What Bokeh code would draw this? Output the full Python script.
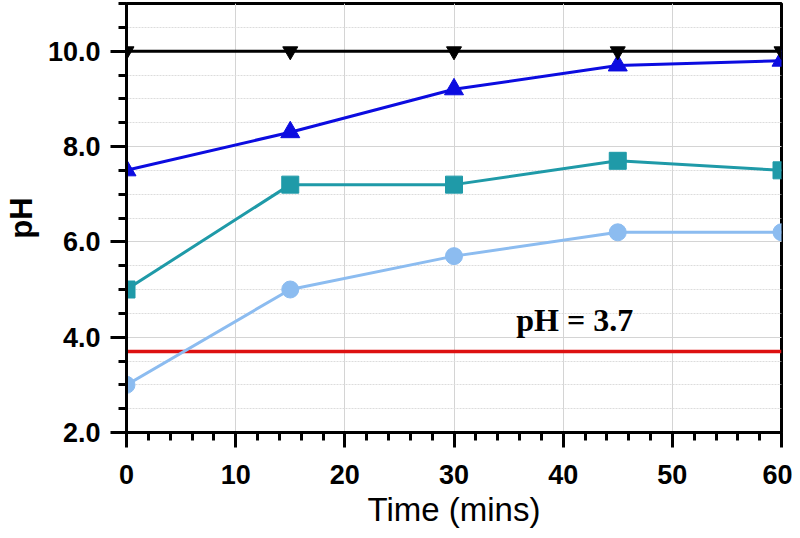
from bokeh.plotting import figure
from bokeh.models import Range1d, SingleIntervalTicker, NumeralTickFormatter, Label
from bokeh.embed import file_html
from bokeh.resources import INLINE

time = [0, 15, 30, 45, 60]
ph_black = [10.0, 10.0, 10.0, 10.0, 10.0]
ph_blue = [7.5, 8.3, 9.2, 9.7, 9.8]
ph_teal = [5.0, 7.2, 7.2, 7.7, 7.5]
ph_light = [3.0, 5.0, 5.7, 6.2, 6.2]
threshold = 3.7
threshold_label = "pH = 3.7"
x_title = "Time (mins)"
y_title = "pH"

p = figure(width=792, height=530, output_backend="svg", toolbar_location=None,
           x_range=Range1d(0, 60), y_range=Range1d(2, 11),
           min_border_left=124, min_border_right=11, min_border_top=3, min_border_bottom=98)

p.outline_line_color = "black"
p.outline_line_width = 3

# grids
p.xgrid.grid_line_color = "#d4d4d4"
p.xgrid.grid_line_width = 1
p.ygrid.grid_line_color = "#d4d4d4"
p.ygrid.grid_line_width = 1
p.ygrid.minor_grid_line_color = "#dcdcdc"
p.ygrid.minor_grid_line_dash = "2 1"
p.ygrid.minor_grid_line_width = 1

p.xaxis.ticker = SingleIntervalTicker(interval=10, num_minor_ticks=5)
p.yaxis.ticker = SingleIntervalTicker(interval=2, num_minor_ticks=4)
p.yaxis.formatter = NumeralTickFormatter(format="0.0")

for ax in (p.xaxis[0], p.yaxis[0]):
    ax.axis_line_width = 3
    ax.axis_line_color = "black"
    ax.major_tick_line_width = 3
    ax.minor_tick_line_width = 3
    ax.major_tick_in = 0
    ax.minor_tick_in = 0
    ax.major_tick_out = 15
    ax.minor_tick_out = 8
    ax.major_label_text_font = "Liberation Sans"
    ax.major_label_text_font_style = "bold"
    ax.major_label_text_font_size = "27px"
    ax.major_label_text_color = "black"
    ax.axis_label_text_font = "Liberation Sans"
    ax.axis_label_text_color = "black"

p.xaxis.major_label_standoff = 17
p.xaxis.axis_label = x_title
p.xaxis.axis_label_text_font_style = "normal"
p.xaxis.axis_label_text_font_size = "33px"
p.xaxis.axis_label_standoff = 4

p.yaxis.major_tick_out = 16
p.yaxis.major_label_standoff = 10
p.yaxis.axis_label = y_title
p.yaxis.axis_label_text_font_style = "bold"
p.yaxis.axis_label_text_font_size = "31px"
p.yaxis.axis_label_standoff = 6

# threshold line
p.line([time[0], time[-1]], [threshold, threshold], line_color="#dd1111", line_width=3.5)
p.add_layout(Label(x=35.7, y=4.35, text=threshold_label, text_font="Liberation Serif",
                   text_font_style="bold", text_font_size="32px", text_color="black",
                   text_baseline="alphabetic"))

# series
p.line(time, ph_light, line_color="#8cbcf0", line_width=3)
p.scatter(time, ph_light, marker="circle", size=17, fill_color="#8cbcf0", line_color="#8cbcf0")

p.line(time, ph_teal, line_color="#1f9aa8", line_width=3)
p.scatter(time, ph_teal, marker="square", size=17, fill_color="#1f9aa8", line_color="#1f9aa8")

p.line(time, ph_blue, line_color="#0c0ce0", line_width=3)
p.scatter(time, ph_blue, marker="triangle", size=19, fill_color="#0c0ce0", line_color="#0c0ce0")

p.line(time, ph_black, line_color="black", line_width=3)
p.scatter(time, ph_black, marker="inverted_triangle", size=15, fill_color="black", line_color="black")

open("out.html", "w").write(file_html(p, INLINE))
